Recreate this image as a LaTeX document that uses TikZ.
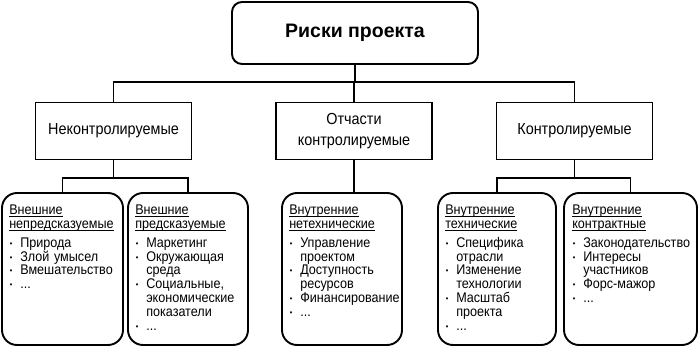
\documentclass[tikz,border=0pt]{standalone}
\usepackage{fontspec}
\setmainfont{Liberation Sans}[FakeStretch=0.9]
\newfontfamily\topfont{Liberation Sans}
\usetikzlibrary{calc}
\newcommand\hd[1]{\leavevmode\setbox0\hbox{#1}\rlap{\rule[-1.7pt]{\wd0}{0.8pt}}\box0}
\newcommand\nl{\hfil\break}
\newcommand\bi{\par\hangindent=11pt\hangafter=1\noindent\makebox[11pt][l]{\hspace{0.5pt}\raisebox{1pt}{\fontsize{8}{8}\selectfont•}}}
\tikzset{
 conn/.style={line width=1.8pt},
 topbox/.style={draw, line width=1.9pt, rounded corners=10pt, minimum width=246pt, minimum height=62pt, inner sep=0pt, font=\topfont\fontsize{19.5}{22}\selectfont\bfseries},
 midbox/.style={draw, line width=1.9pt, minimum width=156pt, minimum height=57pt, inner sep=0pt, align=center, font=\fontsize{16}{21.5}\selectfont},
 leafbox/.style={draw, line width=1.9pt, rounded corners=15pt, minimum height=152pt, inner sep=0pt},
 leaftext/.style={anchor=north west, inner sep=0pt, text width=130pt, font=\fontsize{14}{13.9}\selectfont},
}
\begin{document}
\begin{tikzpicture}[x=1pt,y=-1pt]
\useasboundingbox (0,0) rectangle (700,347);
\node[topbox] (top) at (355,33) {Риски проекта};
\node[midbox] (L) at (113.5,131) {Неконтролируемые};
\node[midbox] (M) at (354,131) {Отчасти\\контролируемые};
\node[midbox] (R) at (574.5,131) {Контролируемые};
\coordinate (h1) at (355,82);
\coordinate (h2) at (355,178);
\node[leafbox, minimum width=121pt] (B1) at (62.5,269) {};
\node[leafbox, minimum width=120pt] (B2) at (188,269) {};
\node[leafbox, minimum width=120pt] (B3) at (342,269) {};
\node[leafbox, minimum width=118pt] (B4) at (497,269) {};
\node[leafbox, minimum width=133pt] (B5) at (630.5,269) {};
\draw[conn] (top.south) -- (top.south |- h1);
\draw[conn] (L.north) -- (L.north |- h1) -- (R.north |- h1) -- (R.north);
\draw[conn] (M.north) -- (M.north |- h1);
\draw[conn] (L.south) -- (L.south |- h2);
\draw[conn] (B1.north) -- (B1.north |- h2) -- (B2.north |- h2) -- (B2.north);
\draw[conn] (M.south) -- (M.south |- B3.north);
\draw[conn] (R.south) -- (R.south |- h2);
\draw[conn] (B4.north) -- (B4.north |- h2) -- (B5.north |- h2) -- (B5.north);
\node[leaftext] (T1) at ($(B1.north west)+(8,13)$) {\noindent\hd{Внешние}\nl\hd{непредсказуемые}\par\vspace{4.5pt}
 \bi Природа\bi Злой умысел\bi Вмешательство\bi ...};
\node[leaftext] (T2) at ($(B2.north west)+(8,13)$) {\noindent\hd{Внешние}\nl\hd{предсказуемые}\par\vspace{4.5pt}
 \bi Маркетинг\bi Окружающая\nl среда\bi Социальные,\nl экономические\nl показатели\bi ...};
\node[leaftext] (T3) at ($(B3.north west)+(8,13)$) {\noindent\hd{Внутренние}\nl\hd{нетехнические}\par\vspace{4.5pt}
 \bi Управление\nl проектом\bi Доступность\nl ресурсов\bi Финансирование\bi ...};
\node[leaftext] (T4) at ($(B4.north west)+(8,13)$) {\noindent\hd{Внутренние}\nl\hd{технические}\par\vspace{4.5pt}
 \bi Специфика\nl отрасли\bi Изменение\nl технологии\bi Масштаб\nl проекта\bi ...};
\node[leaftext] (T5) at ($(B5.north west)+(9,13)$) {\noindent\hd{Внутренние}\nl\hd{контрактные}\par\vspace{4.5pt}
 \bi Законодательство\bi Интересы\nl участников\bi Форс-мажор\bi ...};
\end{tikzpicture}
\end{document}
